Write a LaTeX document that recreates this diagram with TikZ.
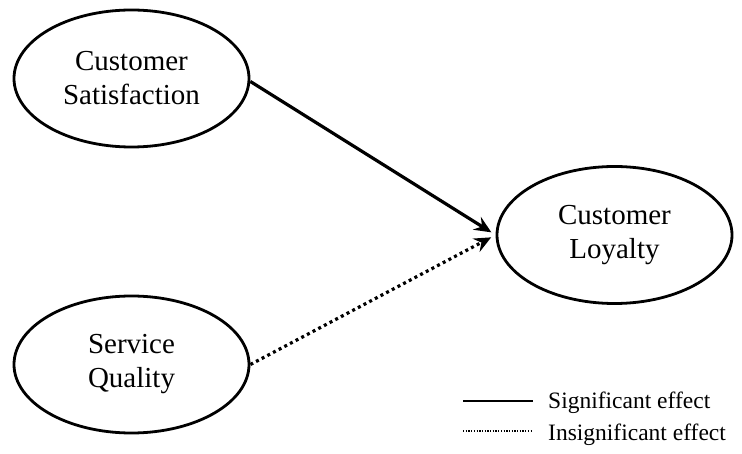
\documentclass[tikz,border=0pt]{standalone}
\usepackage{fontspec}
\setmainfont{Liberation Serif}
\usetikzlibrary{shapes.geometric,arrows.meta}
\begin{document}
\begin{tikzpicture}[x=1pt,y=-1pt,
  construct/.style={draw=black, line width=2.8pt, ellipse, minimum width=235pt, minimum height=137pt, inner sep=0pt, align=center, font=\fontsize{29}{34}\selectfont},
  effect/.style={line width=3.2pt, -{Stealth[length=17pt,width=15pt,inset=6pt]}, shorten >=5pt},
  insig/.style={effect, dash pattern=on 3pt off 3.4pt},
  legtext/.style={anchor=base west, inner sep=0pt, font=\fontsize{23.5}{28}\selectfont}
]
\useasboundingbox (0,0) rectangle (742,454);
\node[construct] (cs) at (131.5,78.5) {Customer\\Satisfaction};
\node[construct] (sq) at (131.5,364.5) {Service\\Quality};
\node[construct] (cl) at (614.5,235) {Customer\\Loyalty};
\draw[effect] (cs.east) ++(0,3) coordinate (csout) -- (cl.west);
\draw[insig] (sq.east) -- (cl.west);
\coordinate (l1a) at (463,401);
\coordinate (l1b) at (533,401);
\coordinate (l2a) at (463,431);
\coordinate (l2b) at (533,431);
\draw[line width=2.4pt] (l1a) -- (l1b);
\draw[line width=1.8pt, dash pattern=on 1.3pt off 1.4pt] (l2a) -- (l2b);
\node[legtext] (sig) at (548,408) {Significant effect};
\node[legtext] (insig) at (548,440) {Insignificant effect};
\end{tikzpicture}
\end{document}
